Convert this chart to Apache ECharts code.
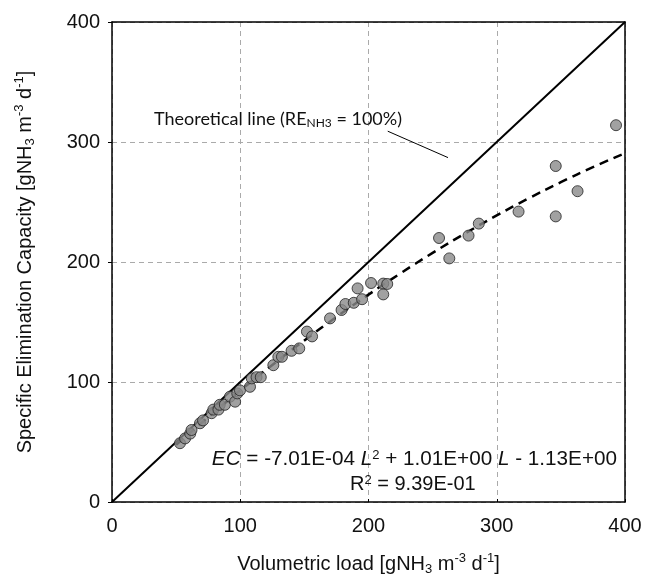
<!DOCTYPE html>
<html>
<head>
<meta charset="utf-8">
<script src="https://cdn.jsdelivr.net/npm/echarts@6/dist/echarts.min.js"></script>
<style>
  html, body { margin: 0; padding: 0; background: #fff; }
  #chart { width: 646px; height: 576px; }
</style>
</head>
<body>
<div id="chart"></div>
<script>
// measured points: volumetric load (x) vs specific elimination capacity (y)
const loadX = [53, 57, 61, 62, 68.6, 71, 77.7, 79, 83, 84, 88, 92, 96, 97.7, 99.8, 107.6, 109, 112.7, 116,
  125.8, 129.7, 132.5, 140, 146, 152, 156, 170, 179, 182, 188.5, 191.5, 195, 202, 211.5, 211.5, 214.6,
  255, 263, 278, 286, 317, 346, 346, 363, 393]
const capY = [49, 53, 57, 60, 65.6, 68, 74, 77, 77, 81, 81, 87.8, 83.6, 90.5, 93, 96, 103, 104, 104,
  114, 121, 121, 126, 128, 142, 138, 153, 160, 165, 166, 178, 169, 182.5, 182, 173, 181.7,
  220, 203, 222, 232, 242, 280, 238, 259, 314]

// quadratic fit
const fitX = [50, 75, 100, 125, 150, 175, 200, 225, 250, 275, 300, 325, 350, 375, 400]
const fitY = [47.6, 70.7, 92.9, 114.2, 134.6, 154.2, 172.8, 190.6, 207.6, 223.6, 238.8, 253.1, 266.5, 279.0, 290.7]

// theoretical line (RE = 100%)
const theoX = [0, 400]
const theoY = [0, 400]

// leader from the label to the theoretical line
const leaderX = [215, 262]
const leaderY = [309, 287]

const xTicks = [0, 100, 200, 300, 400]
const yTicks = [0, 100, 200, 300, 400]

const zip = (a, b) => a.map((v, i) => [v, b[i]])

const chart = echarts.init(document.getElementById('chart'))
const font = '"Liberation Sans", Arial, sans-serif'
const nameRich = {
  n: { fontSize: 20, fontFamily: font, color: '#111' },
  s: { fontSize: 13, fontFamily: font, color: '#111', verticalAlign: 'bottom', padding: [11, 0, 0, 0] },
  p: { fontSize: 13, fontFamily: font, color: '#111', verticalAlign: 'top', padding: [0, 0, 7, 0] }
}
// plain black frame axes (top / right)
const frame = {
  type: 'value', min: 0, max: 400, interval: 100,
  axisLine: { show: true, onZero: false, lineStyle: { color: '#000', width: 1.5 } },
  axisTick: { show: false }, axisLabel: { show: false }, splitLine: { show: false }
}

chart.setOption({
  animation: false,
  grid: { left: 112, top: 22, width: 513, height: 480, outerBoundsMode: 'none', containLabel: false },
  xAxis: [{
    type: 'value', min: xTicks[0], max: xTicks[xTicks.length - 1], interval: 100,
    axisLine: { show: true, onZero: false, lineStyle: { color: '#000', width: 1.5 } },
    axisTick: { show: true, inside: true, length: 3, lineStyle: { color: '#000' } },
    axisLabel: { color: '#111', fontSize: 20, fontFamily: font, margin: 14 },
    splitLine: { show: true, lineStyle: { color: '#aaa', type: [5, 4], width: 1 } },
    name: '{n|Volumetric load [gNH}{s|3}{n| m}{p|-3}{n| d}{p|-1}{n|]}',
    nameLocation: 'middle', nameGap: 50,
    nameTextStyle: { rich: nameRich }
  }, Object.assign({ position: 'top' }, frame)],
  yAxis: [{
    type: 'value', min: yTicks[0], max: yTicks[yTicks.length - 1], interval: 100,
    axisLine: { show: true, onZero: false, lineStyle: { color: '#000', width: 1.5 } },
    axisTick: { show: true, inside: false, length: 4, lineStyle: { color: '#000' } },
    axisLabel: { color: '#111', fontSize: 20, fontFamily: font, margin: 12 },
    splitLine: { show: true, lineStyle: { color: '#aaa', type: [5, 4], width: 1 } },
    name: '{n|Specific Elimination Capacity [gNH}{s|3}{n| m}{p|-3}{n| d}{p|-1}{n|]}',
    nameLocation: 'middle', nameGap: 75,
    nameTextStyle: { rich: nameRich }
  }, Object.assign({ position: 'right' }, frame)],
  series: [
    {
      type: 'line', data: zip(theoX, theoY), symbol: 'none', silent: true,
      lineStyle: { color: '#000', width: 2 }, z: 2
    },
    {
      type: 'line', data: zip(leaderX, leaderY), symbol: 'none', silent: true,
      lineStyle: { color: '#000', width: 1 }, z: 2
    },
    {
      type: 'line', data: zip(fitX, fitY), symbol: 'none', smooth: true, silent: true,
      lineStyle: { color: '#000', width: 2.5, type: [9, 6] }, z: 3
    },
    {
      type: 'scatter', data: zip(loadX, capY), symbol: 'circle', symbolSize: 11,
      itemStyle: { color: '#8a8a8a', borderColor: '#222', borderWidth: 1 }, z: 4
    }
  ],
  graphic: [
    {
      type: 'text', left: 154, top: 110, z: 10,
      style: {
        text: '{n|Theoretical line (RE}{s|NH3}{n| = 100%)}',
        rich: {
          n: { fontSize: 18, fontFamily: 'Lato, "Open Sans", sans-serif', fill: '#111' },
          s: { fontSize: 12, fontFamily: 'Lato, "Open Sans", sans-serif', fill: '#111', verticalAlign: 'bottom', padding: [9, 0, 0, 0] }
        }
      }
    },
    {
      type: 'text', right: 29, top: 449, z: 10,
      style: {
        text: '{i|EC}{n| = -7.01E-04 }{i|L}{p|2}{n| + 1.01E+00 }{i|L}{n| - 1.13E+00}',
        rich: {
          n: { fontSize: 20.7, fontFamily: font, fill: '#111' },
          i: { fontSize: 20.7, fontFamily: font, fontStyle: 'italic', fill: '#111' },
          p: { fontSize: 13, fontFamily: font, fill: '#111', verticalAlign: 'top', padding: [0, 0, 7, 0] }
        }
      }
    },
    {
      type: 'text', left: 350, top: 474, z: 10,
      style: {
        text: '{n|R}{p|2}{n| = 9.39E-01}',
        rich: {
          n: { fontSize: 20, fontFamily: font, fill: '#111' },
          p: { fontSize: 13, fontFamily: font, fill: '#111', verticalAlign: 'top', padding: [0, 0, 7, 0] }
        }
      }
    }
  ]
})
</script>
</body>
</html>
